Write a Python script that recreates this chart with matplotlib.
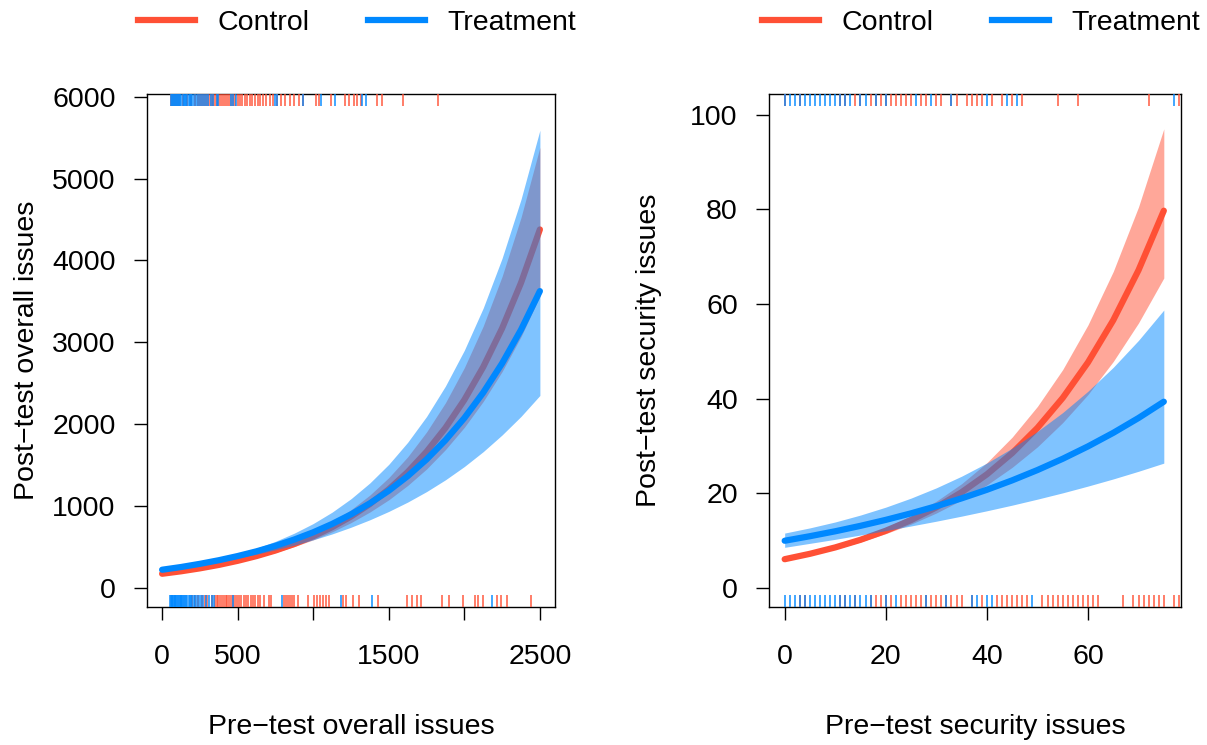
import matplotlib
matplotlib.use("Agg")
import matplotlib.pyplot as plt
import matplotlib.transforms as mtransforms

plt.rcParams['font.family'] = ['Liberation Sans', 'DejaVu Sans']

RED = '#FF5035'
BLUE = '#0088FF'

# ---- left panel: overall issues ----
pre_overall = [0, 125, 250, 375, 500, 625, 750, 875, 1000, 1125, 1250, 1375,
               1500, 1625, 1750, 1875, 2000, 2125, 2250, 2375, 2500]
ctrl_overall = [174, 204, 240, 282, 332, 390, 458, 538, 632, 743, 873, 1026,
                1205, 1416, 1664, 1955, 2297, 2699, 3171, 3726, 4378]
ctrl_overall_lo = [162, 192, 227, 268, 316, 370, 433, 505, 588, 686, 798, 928,
                   1077, 1252, 1453, 1690, 1962, 2278, 2643, 3069, 3562]
ctrl_overall_hi = [187, 218, 254, 297, 349, 411, 485, 573, 679, 805, 955, 1135,
                   1348, 1601, 1905, 2262, 2690, 3198, 3805, 4523, 5381]
trt_overall = [223, 256, 295, 339, 390, 448, 515, 592, 680, 782, 899, 1034,
               1188, 1366, 1570, 1805, 2075, 2386, 2743, 3153, 3625]
trt_overall_lo = [206, 241, 281, 322, 366, 413, 466, 523, 588, 660, 742, 833,
                  935, 1049, 1177, 1321, 1483, 1665, 1869, 2095, 2351]
trt_overall_hi = [241, 272, 310, 357, 415, 486, 570, 670, 787, 926, 1090, 1283,
                  1510, 1779, 2094, 2466, 2903, 3419, 4027, 4745, 5590]

rug_top_trt_overall = [60, 66, 72, 78, 84, 92, 98, 105, 112, 120, 127, 135, 143,
                       150, 158, 166, 175, 183, 192, 200, 210, 222, 236, 250, 262,
                       275, 290, 305, 322, 340, 360, 372, 455, 470, 490, 745, 760,
                       935, 1049, 1141, 1326, 1346]
rug_top_ctrl_overall = [62, 75, 88, 100, 115, 140, 165, 190, 215, 240, 252, 265,
                        278, 290, 302, 315, 328, 340, 352, 365, 378, 390, 402, 415,
                        428, 440, 455, 470, 485, 500, 515, 530, 548, 565, 580, 598,
                        615, 632, 650, 668, 690, 712, 735, 760, 790, 815, 845, 870,
                        905, 930, 1016, 1036, 1115, 1207, 1234, 1273, 1293, 1313,
                        1425, 1458, 1596, 1827]
rug_bot_trt_overall = [53, 58, 63, 68, 73, 78, 83, 88, 93, 98, 104, 110, 116, 122,
                       128, 134, 140, 147, 154, 161, 168, 176, 184, 192, 200, 210,
                       220, 232, 245, 258, 272, 290, 310, 330, 343, 470, 792, 1181,
                       1392, 2183]
rug_bot_ctrl_overall = [195, 215, 240, 262, 285, 300, 330, 350, 360, 372, 384, 396,
                        408, 420, 432, 445, 458, 470, 483, 496, 510, 525, 540, 555,
                        570, 585, 600, 615, 632, 650, 673, 706, 719, 805, 818, 832,
                        845, 858, 872, 897, 963, 1003, 1023, 1043, 1063, 1083, 1102,
                        1200, 1214, 1266, 1306, 1431, 1623, 1656, 1689, 1715, 1854,
                        1900, 1992, 2071, 2091, 2124, 2216, 2243, 2282, 2441]

# ---- right panel: security issues ----
pre_security = [0, 5, 10, 15, 20, 25, 30, 35, 40, 45, 50, 55, 60, 65, 70, 75]
ctrl_security = [6.1, 7.24, 8.59, 10.2, 12.11, 14.37, 17.06, 20.25, 24.03, 28.52,
                 33.85, 40.18, 47.69, 56.6, 67.18, 79.74]
ctrl_security_lo = [5.79, 6.92, 8.22, 9.74, 11.49, 13.51, 15.86, 18.6, 21.79, 25.51,
                    29.85, 34.97, 40.9, 47.88, 56.03, 65.52]
ctrl_security_hi = [6.43, 7.58, 8.97, 10.68, 12.76, 15.29, 18.36, 22.05, 26.5, 31.89,
                    38.39, 46.17, 55.61, 66.9, 80.55, 97.04]
trt_security = [10.0, 10.96, 12.0, 13.15, 14.41, 15.79, 17.3, 18.96, 20.77, 22.76,
                24.94, 27.32, 29.94, 32.8, 35.94, 39.38]
trt_security_lo = [8.61, 9.45, 10.3, 11.21, 12.14, 13.12, 14.13, 15.2, 16.33, 17.52,
                   18.79, 20.12, 21.55, 23.06, 24.68, 26.4]
trt_security_hi = [11.62, 12.72, 13.97, 15.43, 17.1, 19.01, 21.18, 23.64, 26.42, 29.56,
                   33.11, 37.09, 41.6, 46.65, 52.35, 58.75]

rug_top_trt_security = [0, 1, 2, 3, 4, 5, 6, 7, 8, 9, 10, 11, 12, 13, 15, 16, 18, 20,
                        26, 29, 33, 40, 44, 46, 77]
rug_top_ctrl_security = [0, 3, 11, 12, 14, 15, 17, 18, 19, 20, 21, 22, 23, 24, 25, 27,
                         28, 30, 31, 33, 34, 36, 37, 38, 39, 41, 43, 45, 47, 54, 58,
                         72, 78]
rug_bot_trt_security = [0, 1, 2, 3, 4, 5, 6, 7, 8, 9, 10, 11, 12, 13, 14, 15, 16, 17,
                        20, 22, 28, 32, 37, 38, 40, 41, 49]
rug_bot_ctrl_security = [3, 4, 11, 12, 14, 17, 18, 19, 20, 21, 23, 24, 25, 26, 27, 28,
                         29, 30, 31, 32, 33, 34, 35, 37, 39, 42, 43, 44, 45, 46, 47,
                         48, 51, 52, 53, 54, 55, 56, 57, 58, 59, 60, 61, 62, 67, 69,
                         70, 71, 72, 73, 74, 75, 77, 78]

FS = 20.5


def draw_rug(ax, xs, color, top):
    trans = mtransforms.blended_transform_factory(ax.transData, ax.transAxes)
    if top:
        ax.vlines(xs, 1 - 0.024, 1, transform=trans, color=color, lw=1.3, alpha=0.8,
                  zorder=5)
    else:
        ax.vlines(xs, 0, 0.024, transform=trans, color=color, lw=1.3, alpha=0.8,
                  zorder=5)


def panel(ax, x, c, clo, chi, t, tlo, thi, rugs):
    # red band, red line, then blue band over them, then blue line
    ax.fill_between(x, clo, chi, color=RED, alpha=0.5, lw=0, zorder=1)
    ax.plot(x, c, color=RED, lw=4.5, solid_capstyle='round', zorder=2)
    ax.fill_between(x, tlo, thi, color=BLUE, alpha=0.5, lw=0, zorder=3)
    ax.plot(x, t, color=BLUE, lw=4.5, solid_capstyle='round', zorder=4)
    top_t, top_c, bot_t, bot_c = rugs
    draw_rug(ax, top_c, RED, True)
    draw_rug(ax, top_t, BLUE, True)
    draw_rug(ax, bot_c, RED, False)
    draw_rug(ax, bot_t, BLUE, False)
    for s in ax.spines.values():
        s.set_linewidth(1.0)
    ax.tick_params(direction='out', length=9.5, width=1.0, labelsize=FS)
    ax.tick_params(axis='y', pad=13)
    ax.tick_params(axis='x', pad=17)
    ax.plot([], [], color=RED, lw=4.5, label='Control')
    ax.plot([], [], color=BLUE, lw=4.5, label='Treatment')
    w = ax.get_position().width * 1207
    ax.legend(loc='center', bbox_to_anchor=(0.5 + 6 / w, (745 - 23 - 138) / 513.0),
              ncol=2, frameon=False, fontsize=FS, handlelength=2.0,
              handletextpad=0.8, columnspacing=2.05)


fig = plt.figure(figsize=(12.07, 7.45), dpi=100)
ax1 = fig.add_axes([147 / 1207, 138 / 745, 408 / 1207, 513 / 745])
ax2 = fig.add_axes([769 / 1207, 138 / 745, 412 / 1207, 513 / 745])

panel(ax1, pre_overall, ctrl_overall, ctrl_overall_lo, ctrl_overall_hi,
      trt_overall, trt_overall_lo, trt_overall_hi,
      (rug_top_trt_overall, rug_top_ctrl_overall, rug_bot_trt_overall, rug_bot_ctrl_overall))
ax1.set_xlim(-100, 2600)
ax1.set_ylim(-232, 6032)
ax1.set_xticks([0, 500, 1000, 1500, 2000, 2500])
ax1.set_xticklabels(['0', '500', '', '1500', '', '2500'])
ax1.set_yticks([0, 1000, 2000, 3000, 4000, 5000, 6000])
ax1.set_xlabel('Pre\u2212test overall issues', fontsize=FS)
ax1.set_ylabel('Post\u2212test overall issues', fontsize=FS)

panel(ax2, pre_security, ctrl_security, ctrl_security_lo, ctrl_security_hi,
      trt_security, trt_security_lo, trt_security_hi,
      (rug_top_trt_security, rug_top_ctrl_security, rug_bot_trt_security, rug_bot_ctrl_security))
ax2.set_xlim(-3.1, 78.4)
ax2.set_ylim(-4, 104.4)
ax2.set_xticks([0, 20, 40, 60])
ax2.set_yticks([0, 20, 40, 60, 80, 100])
ax2.set_xlabel('Pre\u2212test security issues', fontsize=FS)
ax2.set_ylabel('Post\u2212test security issues', fontsize=FS)

for ax, w in ((ax1, 408), (ax2, 412)):
    ax.xaxis.set_label_coords(0.5, -120 / 513)
    ax.xaxis.label.set_va('center')
    ax.yaxis.set_label_coords(-120 / w, 0.5)
    ax.yaxis.label.set_va('center')

fig.savefig('out.png', dpi=100)
